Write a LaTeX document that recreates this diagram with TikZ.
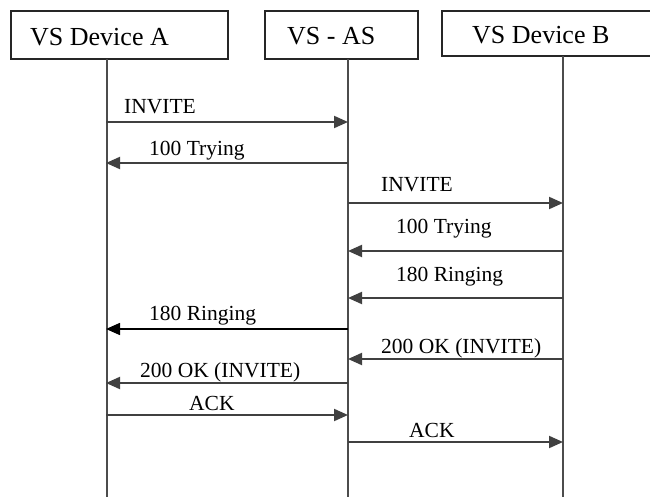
\documentclass[tikz,border=0pt]{standalone}
\usepackage{fontspec}
\setmainfont{Liberation Serif}
\usetikzlibrary{arrows.meta}
\begin{document}
\begin{tikzpicture}[x=1pt,y=-1pt,
  hdrbox/.style={draw=black!85,line width=1.6pt,fill=white},
  hdrtext/.style={anchor=base west,inner sep=0pt,font=\fontsize{26}{30}\selectfont},
  lifeline/.style={draw=black!70,line width=2pt},
  msg/.style={draw=black!75,line width=2pt,-{Triangle[length=14pt,width=12pt]}},
  msgtext/.style={anchor=base west,inner sep=0pt,font=\fontsize{21.5}{24}\selectfont}]
\useasboundingbox (0,0) rectangle (650,497);
\clip (0,0) rectangle (650,497);
\fill[white] (0,0) rectangle (650,497);
% header boxes
\draw[hdrbox] (10.7,11) rectangle (228,59);
\draw[hdrbox] (265,11) rectangle (418,59);
\draw[hdrbox] (442,11) rectangle (670,56);
\node[hdrtext] (ta) at (30,45.5) {VS Device A};
\node[hdrtext] (ts) at (287,45) {VS - AS};
\node[hdrtext] (tb) at (472,44) {VS Device B};
% lifelines
\coordinate (Atop) at (107,59);
\coordinate (Abot) at (107,497);
\coordinate (Stop) at (348,59);
\coordinate (Sbot) at (348,497);
\coordinate (Btop) at (563,56);
\coordinate (Bbot) at (563,497);
\draw[lifeline] (Atop) -- (Abot);
\draw[lifeline] (Stop) -- (Sbot);
\draw[lifeline] (Btop) -- (Bbot);
% message end points
\foreach \i/\y in {1/122,2/163,3/203,4/251,5/298,6/329,7/359,8/383,9/415,10/442}{
  \coordinate (a\i) at (106,\y);
  \coordinate (s\i) at (348,\y);
  \coordinate (b\i) at (563,\y);
}
% messages
\draw[msg] (a1) -- (s1);
\node[msgtext] (m1) at (124,114) {INVITE};
\draw[msg] (s2) -- (a2);
\node[msgtext] (m2) at (149,156) {100 Trying};
\draw[msg] (s3) -- (b3);
\node[msgtext] (m3) at (381,192) {INVITE};
\draw[msg] (b4) -- (s4);
\node[msgtext] (m4) at (396,233) {100 Trying};
\draw[msg] (b5) -- (s5);
\node[msgtext] (m5) at (396,281) {180 Ringing};
\draw[msg,draw=black,line width=1.6pt] (s6) -- (a6);
\node[msgtext] (m6) at (149,320) {180 Ringing};
\draw[msg] (b7) -- (s7);
\node[msgtext] (m7) at (381,353) {200 OK (INVITE)};
\draw[msg] (s8) -- (a8);
\node[msgtext] (m8) at (140,377) {200 OK (INVITE)};
\draw[msg] (a9) -- (s9);
\node[msgtext] (m9) at (189,410) {ACK};
\draw[msg] (s10) -- (b10);
\node[msgtext] (m10) at (409,437) {ACK};
\end{tikzpicture}
\end{document}
